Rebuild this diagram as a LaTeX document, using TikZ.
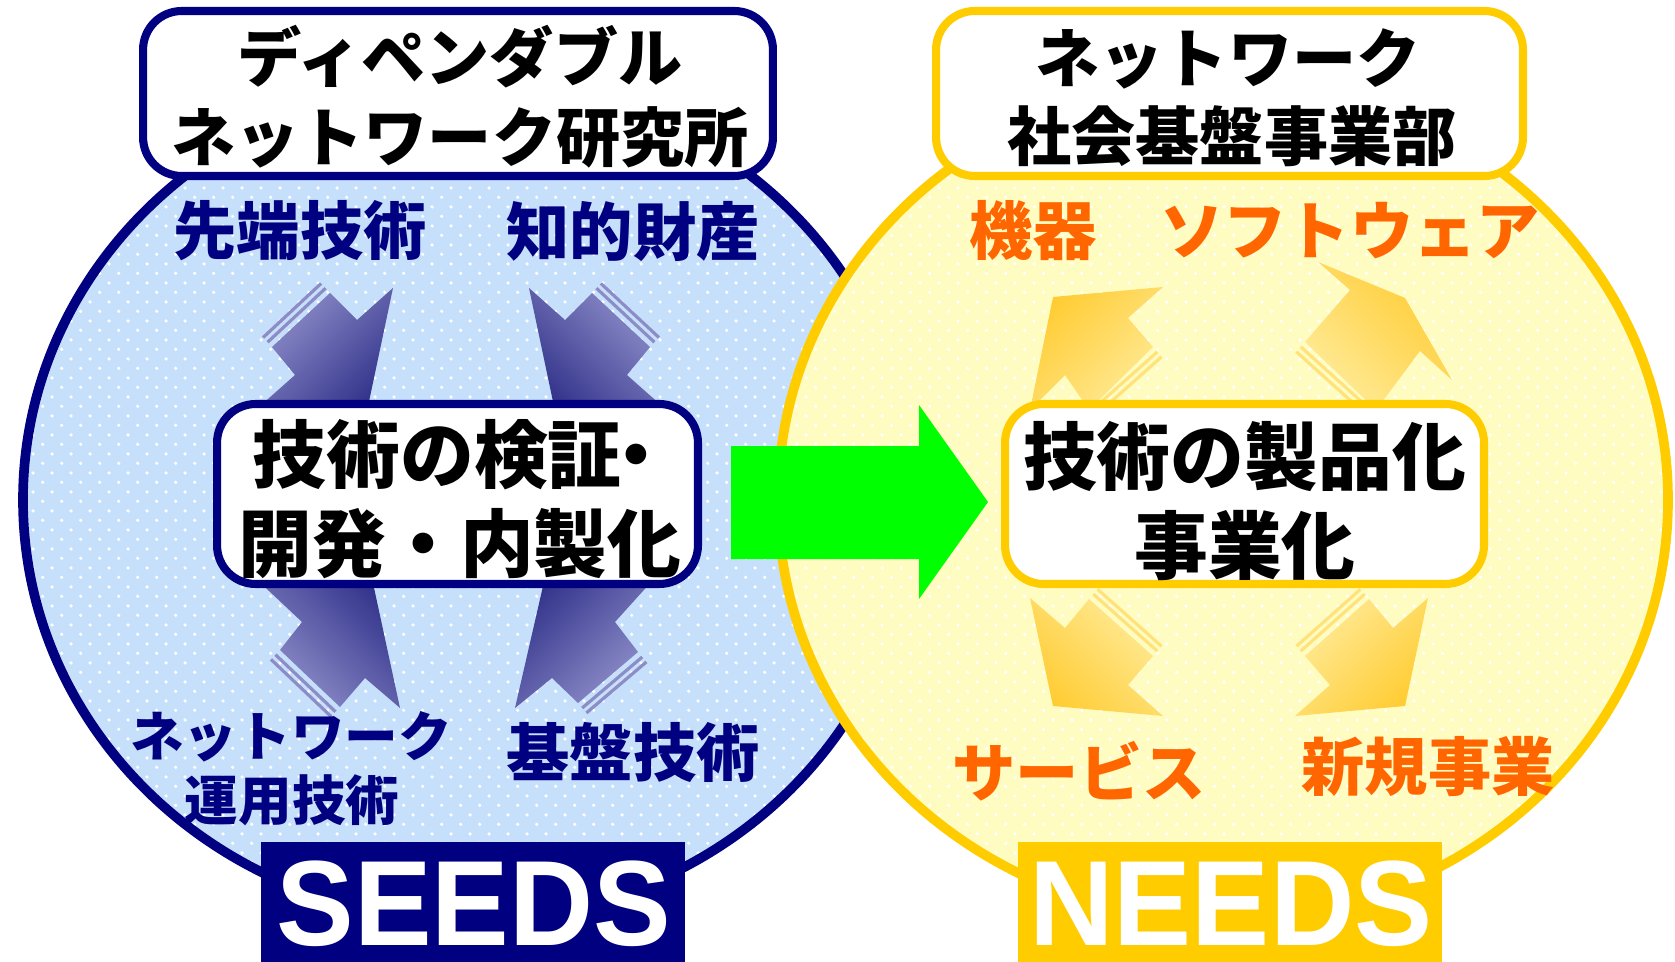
\documentclass[tikz,border=0pt]{standalone}
\usepackage{fontspec}
\usepackage{graphicx}
\newfontfamily\jp{Noto Sans CJK JP}
\newfontfamily\lsans{Liberation Sans}
\usetikzlibrary{patterns}
\newcommand\fsz[1]{\fontsize{#1}{#1}\selectfont}
\definecolor{navyc}{HTML}{000080}
\definecolor{goldc}{HTML}{FFCC00}
\definecolor{orangec}{HTML}{FF6600}
\definecolor{bluefill}{HTML}{C6DFFA}
\definecolor{yelfill}{HTML}{FFFCC2}
\definecolor{greenc}{HTML}{00FF00}
\definecolor{bluelight}{HTML}{9A9AD2}
\definecolor{bluedark}{HTML}{2E2E88}
\definecolor{bluestripe}{HTML}{8C8CC6}
\definecolor{yellight}{HTML}{FFEB99}
\definecolor{yeldark}{HTML}{FFCC33}
\definecolor{yelstripe}{HTML}{FFE27A}
\pgfdeclarepatternformonly{sparkle}{\pgfqpoint{0pt}{0pt}}{\pgfqpoint{11pt}{11pt}}{\pgfqpoint{11pt}{11pt}}{%
  \pgfpathcircle{\pgfqpoint{2.75pt}{2.75pt}}{1.05pt}%
  \pgfpathcircle{\pgfqpoint{8.25pt}{8.25pt}}{1.05pt}%
  \pgfusepath{fill}%
}
\tikzset{
  ovalL/.style={draw=navyc, line width=5.5pt},
  ovalR/.style={draw=goldc, line width=5.5pt},
  sparkles/.style={pattern=sparkle, pattern color=white},
  boxL/.style={draw=navyc, line width=4.6pt, fill=white, rounded corners=22pt, inner sep=0pt},
  boxR/.style={draw=goldc, line width=4.6pt, fill=white, rounded corners=22pt, inner sep=0pt},
  title/.style={text=black, font=\jp\bfseries\fsz{36.5pt}, inner sep=0pt},
  core/.style={text=black, font=\jp\bfseries\fsz{42pt}, inner sep=0pt},
  lblB/.style={text=navyc, font=\jp\bfseries\fsz{36pt}, inner sep=0pt},
  lblBs/.style={text=navyc, font=\jp\bfseries\fsz{30.5pt}, inner sep=0pt},
  lblO/.style={text=orangec, font=\jp\bfseries\fsz{36pt}, inner sep=0pt},
  tagbox/.style={inner sep=0pt, minimum width=8.48cm, minimum height=2.48cm},
  tag/.style={text=white, font=\lsans\bfseries\fsz{69pt}, inner sep=0pt, anchor=base, text depth=0pt},
  bstripe/.style={draw=bluestripe, line width=1.8pt},
  ystripe/.style={draw=yelstripe, line width=1.8pt},
}
\begin{document}
\begin{tikzpicture}[x=0.02cm,y=-0.02cm]
\useasboundingbox (0,0) rectangle (1675,962);
\fill[white] (0,0) rectangle (1675,962);

% SEEDS circle
\fill[bluefill] (468,500) ellipse [x radius=445, y radius=420];
\fill[sparkles] (468,500) ellipse [x radius=445, y radius=420];
\draw[ovalL] (468,500) ellipse [x radius=445, y radius=420];
% NEEDS circle
\fill[yelfill] (1223,500) ellipse [x radius=445, y radius=420];
\fill[sparkles] (1223,500) ellipse [x radius=445, y radius=420];
\draw[ovalR] (1223,500) ellipse [x radius=445, y radius=420];

% blue arrows (toward the centre box)
\draw[bstripe] (267.6,342.2) -- (325.6,288.2);
\draw[bstripe] (263.1,337.5) -- (321.1,283.5);
\shade[top color=bluelight, bottom color=bluedark, shading angle=45]
  (272,347) -- (330,293) -- (357,320) -- (393,288) -- (363,430) -- (233,430) -- (295,375) -- cycle;
\draw[bstripe] (654.4,342.2) -- (596.4,288.2);
\draw[bstripe] (658.9,337.5) -- (600.9,283.5);
\shade[top color=bluelight, bottom color=bluedark, shading angle=-45]
  (650,347) -- (592,293) -- (565,320) -- (529,288) -- (559,430) -- (689,430) -- (627,375) -- cycle;
\draw[bstripe] (275.5,654.7) -- (335.5,711.7);
\draw[bstripe] (271,659.4) -- (331,716.4);
\shade[top color=bluedark, bottom color=bluelight, shading angle=-45]
  (280,650) -- (340,707) -- (365,678) -- (400,708) -- (368,560) -- (236,560) -- (302,622) -- cycle;
\draw[bstripe] (642.2,657) -- (582.2,708);
\draw[bstripe] (646.4,661.9) -- (586.4,712.9);
\shade[top color=bluedark, bottom color=bluelight, shading angle=45]
  (638,652) -- (578,703) -- (552,678) -- (515,708) -- (549,560) -- (671,560) -- (615,622) -- cycle;

% yellow arrows (away from the centre box)
\draw[ystripe] (1157.3,351.9) -- (1093.3,408.9);
\draw[ystripe] (1161.6,356.7) -- (1097.6,413.7);
\shade[top color=yeldark, bottom color=yellight, shading angle=45]
  (1053,297) -- (1163,287) -- (1128,318) -- (1153,347) -- (1089,410) -- (1065,375) -- (1030,410) -- cycle;
\draw[ystripe] (1300.7,346.8) -- (1371.7,410.8);
\draw[ystripe] (1296.3,351.7) -- (1367.3,415.7);
\shade[top color=yeldark, bottom color=yellight, shading angle=-45]
  (1318,262) -- (1405,298) -- (1452,380) -- (1420,351) -- (1376,410) -- (1305,342) -- (1350,290) -- cycle;
\draw[ystripe] (1093.3,594.1) -- (1157.3,651.1);
\draw[ystripe] (1097.6,589.3) -- (1161.6,646.3);
\shade[top color=yellight, bottom color=yeldark, shading angle=-45]
  (1053,706) -- (1030,598) -- (1065,628) -- (1089,599) -- (1153,656) -- (1128,685) -- (1163,716) -- cycle;
\draw[ystripe] (1364.7,594.1) -- (1300.7,651.1);
\draw[ystripe] (1360.4,589.3) -- (1296.4,646.3);
\shade[top color=yellight, bottom color=yeldark, shading angle=45]
  (1405,706) -- (1428,598) -- (1393,628) -- (1369,599) -- (1305,656) -- (1330,685) -- (1295,716) -- cycle;

% green arrow
\fill[greenc] (731,446) -- (919,446) -- (919,405) -- (988,502) -- (919,599) -- (919,559) -- (731,559) -- cycle;

% centre boxes
\node[boxL, minimum width=9.62cm, minimum height=3.6cm] (lab) at (457.5,494) {};
\node[core] (labA) at (463,455) {技術の検証\kern-0.3em・};
\node[core] (labB) at (460,544) {開発・内製化};
\node[boxR, minimum width=9.58cm, minimum height=3.6cm] (biz) at (1244.5,494) {};
\node[core] (bizA) at (1244.5,457) {技術の製品化};
\node[core] (bizB) at (1245,546) {事業化};

% top boxes
\node[boxL, minimum width=12.6cm, minimum height=3.3cm] (dnl) at (458,93.5) {};
\node[title] (dnlA) at (460,57) {ディペンダブル};
\node[title] (dnlB) at (460,137) {ネットワーク研究所};
\node[boxR, minimum width=11.74cm, minimum height=3.3cm] (nsi) at (1229.5,93.5) {};
\node[title] (nsiA) at (1228,59) {ネットワーク};
\node[title] (nsiB) at (1232,136) {社会基盤事業部};

% labels
\node[lblB] (adv) at (300,231) {先端技術};
\node[lblB] (ip) at (633,231) {知的財産};
\node[lblBs] (ops1) at (291,737) {ネットワーク};
\node[lblBs] (ops2) at (292,800) {運用技術};
\node[lblB] (base) at (633,752) {基盤技術};
\node[lblO] (dev) at (1033,231) {機器};
\node[lblO] (sw) at (1350,231) {ソフトウェア};
\node[lblO] (svc) at (1079,771) {サービス};
\node[lblO] (newb) at (1428,767) {新規事業};

% SEEDS / NEEDS tags
\node[tagbox, fill=navyc] (seedbox) at (473,904) {};
\node[tag] (seeds) at (474,945) {\scalebox{0.96}[1]{SEEDS}};
\node[tagbox, fill=goldc] (needbox) at (1230,904) {};
\node[tag] (needs) at (1231,945) {\scalebox{0.965}[1]{NEEDS}};
\end{tikzpicture}
\end{document}
